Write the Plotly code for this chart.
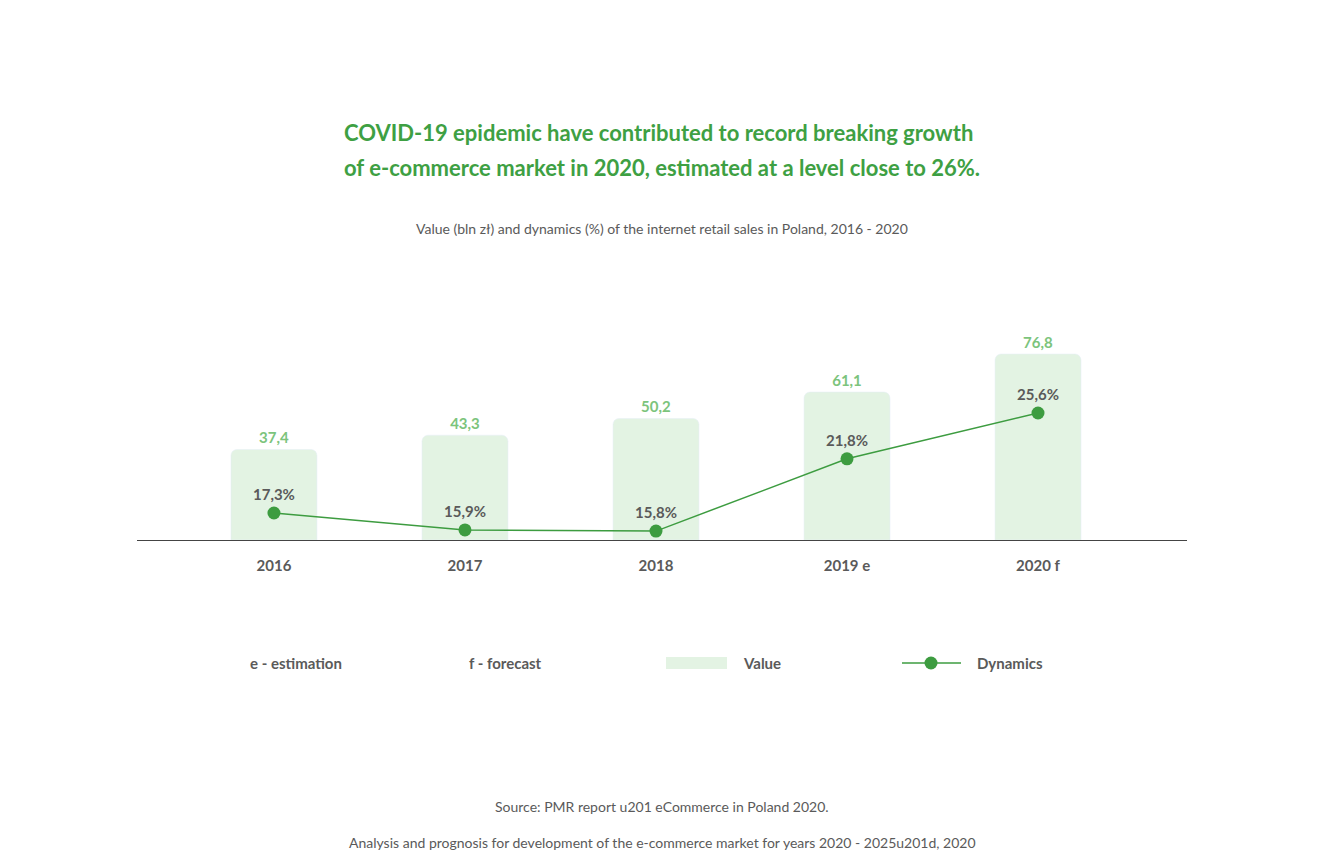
import plotly.graph_objects as go

years = ["2016", "2017", "2018", "2019 e", "2020 f"]
values = [37.4, 43.3, 50.2, 61.1, 76.8]
dynamics = [17.3, 15.9, 15.8, 21.8, 25.6]
value_labels = ["37,4", "43,3", "50,2", "61,1", "76,8"]
dyn_labels = ["17,3%", "15,9%", "15,8%", "21,8%", "25,6%"]

xs = list(range(len(years)))
GREEN = "#3d9c40"
LIGHT = "#e3f3e3"
GRAY = "#5a5a5a"
F = "Lato"

fig = go.Figure()
fig.add_trace(go.Bar(x=xs, y=values, width=0.45, marker=dict(color=LIGHT, cornerradius=6),
                     text=value_labels, textposition="outside", cliponaxis=False,
                     textfont=dict(color="#7cc47c", size=15, family=F, weight="bold"),
                     hoverinfo="skip", showlegend=False))
fig.add_trace(go.Scatter(x=xs, y=dynamics, yaxis="y2", mode="lines+markers+text",
                         line=dict(color=GREEN, width=1.5), marker=dict(color=GREEN, size=13),
                         text=dyn_labels, textposition="top center", cliponaxis=False,
                         textfont=dict(color=GRAY, size=15, family=F, weight="bold"),
                         showlegend=False))

fig.update_layout(
    width=1316, height=845, paper_bgcolor="white", plot_bgcolor="white",
    margin=dict(l=129, r=137, t=332, b=313),
    xaxis=dict(range=[-0.717, 4.78], tickvals=xs, ticktext=years, showgrid=False, zeroline=False,
               showline=True, linecolor="#444", linewidth=1.2, ticks="", ticklen=0,
               ticklabelstandoff=12,
               tickfont=dict(color=GRAY, size=15, family=F, weight="bold")),
    yaxis=dict(range=[0, 82.6], visible=False),
    yaxis2=dict(range=[15.06, 31.66], overlaying="y", visible=False),
    font=dict(family=F),
)

ann = [
    (658, 133, "COVID-19 epidemic have contributed to record breaking growth", 22, "#3ea043", True, "center"),
    (662, 168, "of e-commerce market in 2020, estimated at a level close to 26%.", 22, "#3ea043", True, "center"),
    (662, 228, "Value (bln zł) and dynamics (%) of the internet retail sales in Poland, 2016 - 2020", 14, GRAY, False, "center"),
    (248, 663, "e - estimation", 15, GRAY, True, "left"),
    (467, 663, "f - forecast", 15, GRAY, True, "left"),
    (741, 663, "Value", 15, GRAY, True, "left"),
    (975, 663, "Dynamics", 15, GRAY, True, "left"),
    (662, 806, "Source: PMR report u201 eCommerce in Poland 2020.", 14, GRAY, False, "center"),
    (662, 842, "Analysis and prognosis for development of the e-commerce market for years 2020 - 2025u201d, 2020", 14, GRAY, False, "center"),
]

def px(x, y):
    return (x - 137) / 1050, (540 - y) / 200

for x, y, t, s, c, b, xa in ann:
    ax, ay = px(x, y)
    fig.add_annotation(x=ax, y=ay, xref="paper", yref="paper", text=t, showarrow=False,
                       xanchor=xa, yanchor="middle",
                       font=dict(color=c, size=s, family=F, weight="bold" if b else "normal"))

x0, y0 = px(666, 669); x1, y1 = px(727, 657)
fig.add_shape(type="rect", xref="paper", yref="paper", x0=x0, y0=y0, x1=x1, y1=y1,
              fillcolor=LIGHT, line=dict(width=0))
x0, y0 = px(902, 663); x1, _ = px(961, 663)
fig.add_shape(type="line", xref="paper", yref="paper", x0=x0, y0=y0, x1=x1, y1=y0,
              line=dict(color=GREEN, width=1.5))
cx, cy = px(931, 663)
fig.add_shape(type="circle", xref="paper", yref="paper", x0=cx - 6.5 / 1050, x1=cx + 6.5 / 1050,
              y0=cy - 6.5 / 200, y1=cy + 6.5 / 200, fillcolor=GREEN, line=dict(width=0))

fig.write_html("out.html")
